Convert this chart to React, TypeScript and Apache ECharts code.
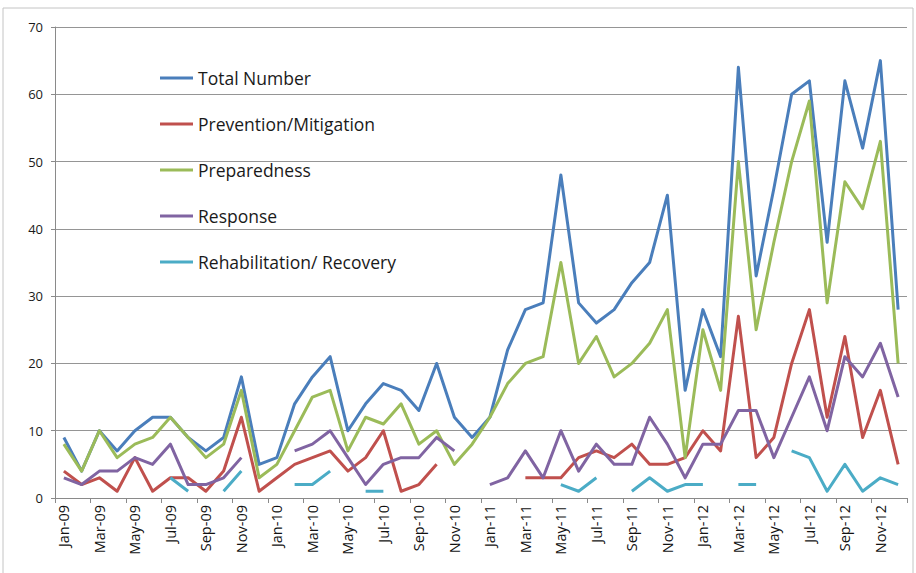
import React, { useEffect, useRef } from "react";
import * as echarts from "echarts";

const categories = [
  "Jan-09", "Feb-09", "Mar-09", "Apr-09", "May-09", "Jun-09", "Jul-09", "Aug-09", "Sep-09", "Oct-09", "Nov-09", "Dec-09",
  "Jan-10", "Feb-10", "Mar-10", "Apr-10", "May-10", "Jun-10", "Jul-10", "Aug-10", "Sep-10", "Oct-10", "Nov-10", "Dec-10",
  "Jan-11", "Feb-11", "Mar-11", "Apr-11", "May-11", "Jun-11", "Jul-11", "Aug-11", "Sep-11", "Oct-11", "Nov-11", "Dec-11",
  "Jan-12", "Feb-12", "Mar-12", "Apr-12", "May-12", "Jun-12", "Jul-12", "Aug-12", "Sep-12", "Oct-12", "Nov-12", "Dec-12",
];

const totalNumber = [
  9, 4, 10, 7, 10, 12, 12, 9, 7, 9, 18, 5,
  6, 14, 18, 21, 10, 14, 17, 16, 13, 20, 12, 9,
  12, 22, 28, 29, 48, 29, 26, 28, 32, 35, 45, 16,
  28, 21, 64, 33, 46, 60, 62, 38, 62, 52, 65, 28,
];

const prevention = [
  4, 2, 3, 1, 6, 1, 3, 3, 1, 4, 12, 1,
  3, 5, 6, 7, 4, 6, 10, 1, 2, 5, null, null,
  null, null, 3, 3, 3, 6, 7, 6, 8, 5, 5, 6,
  10, 7, 27, 6, 9, 20, 28, 12, 24, 9, 16, 5,
];

const preparedness = [
  8, 4, 10, 6, 8, 9, 12, 9, 6, 8, 16, 3,
  5, 10, 15, 16, 7, 12, 11, 14, 8, 10, 5, 8,
  12, 17, 20, 21, 35, 20, 24, 18, 20, 23, 28, 6,
  25, 16, 50, 25, 38, 50, 59, 29, 47, 43, 53, 20,
];

const response = [
  3, 2, 4, 4, 6, 5, 8, 2, 2, 3, 6, null,
  null, 7, 8, 10, 6, 2, 5, 6, 6, 9, 7, null,
  2, 3, 7, 3, 10, 4, 8, 5, 5, 12, 8, 3,
  8, 8, 13, 13, 6, 12, 18, 10, 21, 18, 23, 15,
];

const rehabilitation = [
  null, null, null, null, null, null, 3, 1, null, 1, 4, null,
  null, 2, 2, 4, null, 1, 1, null, null, null, null, null,
  null, null, null, null, 2, 1, 3, null, 1, 3, 1, 2,
  2, null, 2, 2, null, 7, 6, 1, 5, 1, 3, 2,
];

const seriesNames = [
  "Total Number",
  "Prevention/Mitigation",
  "Preparedness",
  "Response",
  "Rehabilitation/ Recovery",
];
const seriesColors = ["#4A7EBB", "#C0504D", "#9BBB59", "#8064A2", "#4BACC6"];
const seriesData = [totalNumber, prevention, preparedness, response, rehabilitation];

const yTicks = { min: 0, max: 70, interval: 10 };

const FONT = "Open Sans";

export default function App() {
  const ref = useRef<HTMLDivElement>(null);

  useEffect(() => {
    document.body.style.margin = "0";
    const chart = echarts.init(ref.current as HTMLDivElement, null, { renderer: "svg" });
    chart.setOption({
      animation: false,
      backgroundColor: "#ffffff",
      textStyle: { fontFamily: FONT },
      graphic: [
        {
          type: "rect",
          silent: true,
          z: -10,
          shape: { x: 3, y: 8, width: 910, height: 580 },
          style: { fill: "none", stroke: "#c4c4c4", lineWidth: 1 },
        },
      ],
      grid: { left: 55, right: 9, top: 27, bottom: 75, containLabel: false },
      legend: {
        orient: "vertical",
        left: 155,
        top: 63,
        itemWidth: 33,
        itemHeight: 3,
        itemGap: 26,
        icon: "rect",
        data: seriesNames,
        textStyle: { fontFamily: FONT, fontSize: 17.5, color: "#1a1a1a", lineHeight: 20 },
      },
      xAxis: {
        type: "category",
        data: categories,
        boundaryGap: true,
        axisLine: { show: true, lineStyle: { color: "#8a8a8a", width: 1 } },
        axisTick: { show: true, interval: 1, length: 5, alignWithLabel: false, lineStyle: { color: "#8a8a8a" } },
        axisLabel: {
          interval: 1,
          rotate: 90,
          margin: 7,
          fontFamily: FONT,
          fontSize: 14.5,
          color: "#111111",
        },
        splitLine: { show: false },
      },
      yAxis: {
        type: "value",
        min: yTicks.min,
        max: yTicks.max,
        interval: yTicks.interval,
        axisLine: { show: true, lineStyle: { color: "#8a8a8a", width: 1 } },
        axisTick: { show: true, length: 4, lineStyle: { color: "#8a8a8a" } },
        axisLabel: { margin: 12, fontFamily: FONT, fontSize: 13, color: "#1a1a1a" },
        splitLine: { show: true, lineStyle: { color: "#959595", width: 1 } },
      },
      series: seriesNames.map((name, i) => ({
        name,
        type: "line",
        data: seriesData[i],
        connectNulls: false,
        showSymbol: false,
        symbol: "none",
        color: seriesColors[i],
        lineStyle: { width: 3, color: seriesColors[i], join: "round" },
        itemStyle: { color: seriesColors[i] },
        emphasis: { disabled: true },
      })),
    });
    return () => chart.dispose();
  }, []);

  return <div ref={ref} style={{ width: 916, height: 573 }} />;
}
